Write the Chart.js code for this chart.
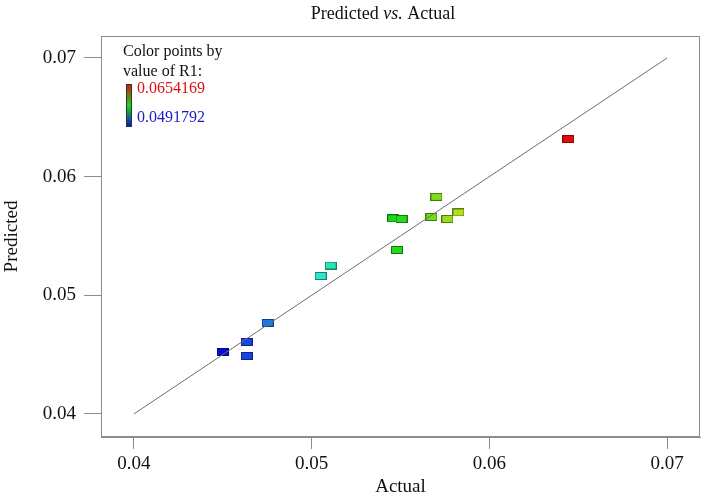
<!DOCTYPE html>
<html>
<head>
<meta charset="utf-8">
<script src="https://cdn.jsdelivr.net/npm/chart.js@4.4.0/dist/chart.umd.min.js"></script>
<style>
  html, body { margin: 0; padding: 0; background: #fff; }
  #wrap { width: 706px; height: 499px; }
</style>
</head>
<body>
<div id="wrap"><canvas id="chart"></canvas></div>
<script>
// values
const actual = [0.0450, 0.04635, 0.04635, 0.04753, 0.05051, 0.05107, 0.05459, 0.05506, 0.05480, 0.05674, 0.05702, 0.05764, 0.05826, 0.06444]
const predicted = [0.04522, 0.04607, 0.04489, 0.04767, 0.05163, 0.05251, 0.05649, 0.05643, 0.05382, 0.05660, 0.05829, 0.05643, 0.05698, 0.06317]
const tickValues = [0.04, 0.05, 0.06, 0.07]
const refLine = [0.04, 0.07]
const r1High = "0.0654169"
const r1Low = "0.0491792"

const serif = "'Liberation Serif', 'DejaVu Serif', serif"

// blue -> cyan -> green -> yellow -> red, by actual value
const colorStops = [
    [0.0450, [10, 10, 215]],
    [0.0464, [25, 70, 230]],
    [0.0476, [25, 125, 235]],
    [0.0505, [45, 230, 205]],
    [0.0545, [25, 215, 25]],
    [0.0552, [40, 220, 30]],
    [0.0567, [115, 220, 25]],
    [0.0583, [175, 225, 30]],
    [0.0645, [230, 10, 10]]
]

function colorFor(v) {
    if (v <= colorStops[0][0]) return colorStops[0][1]
    for (let i = 1; i < colorStops.length; i++) {
        const [v1, c1] = colorStops[i]
        const [v0, c0] = colorStops[i - 1]
        if (v <= v1) {
            const t = (v - v0) / (v1 - v0)
            return c0.map((c, k) => Math.round(c + (c1[k] - c) * t))
        }
    }
    return colorStops[colorStops.length - 1][1]
}

const markCache = {}
function markFor(v) {
    const rgb = colorFor(v)
    const key = rgb.join(",")
    if (markCache[key]) return markCache[key]
    const cv = document.createElement("canvas")
    cv.width = 12
    cv.height = 8
    const c = cv.getContext("2d")
    c.fillStyle = `rgb(${rgb.join(",")})`
    c.fillRect(0, 0, 12, 8)
    c.strokeStyle = `rgb(${rgb.map(x => Math.round(x * 0.55)).join(",")})`
    c.lineWidth = 1
    c.strokeRect(0.5, 0.5, 11, 7)
    markCache[key] = cv
    return cv
}

const decorPlugin = {
    id: "decor",
    beforeDatasetsDraw(chart) {
        const { ctx, chartArea: a } = chart
        ctx.save()
        ctx.strokeStyle = "#8c8c8c"
        ctx.lineWidth = 1
        ctx.strokeRect(a.left + 0.5, a.top + 0.5, a.right - a.left - 1, a.bottom - a.top - 1)
        ctx.restore()
    },
    afterDraw(chart) {
        const { ctx } = chart
        ctx.save()
        // title with italic "vs."
        const parts = [["Predicted ", ""], ["vs.", "italic "], [" Actual", ""]]
        let total = 0
        parts.forEach(p => {
            ctx.font = `${p[1]}18px ${serif}`
            total += ctx.measureText(p[0]).width
        })
        let x = 383 - total / 2
        ctx.fillStyle = "#111"
        ctx.textBaseline = "middle"
        parts.forEach(p => {
            ctx.font = `${p[1]}18px ${serif}`
            ctx.fillText(p[0], x, 14)
            x += ctx.measureText(p[0]).width
        })

        // colour key
        ctx.font = `16px ${serif}`
        ctx.fillStyle = "#111"
        ctx.fillText("Color points by", 123, 52)
        ctx.fillText("value of R1:", 123, 72)
        const grad = ctx.createLinearGradient(0, 84, 0, 127)
        grad.addColorStop(0, "rgb(230,10,10)")
        grad.addColorStop(0.5, "rgb(20,220,20)")
        grad.addColorStop(1, "rgb(10,10,220)")
        ctx.fillStyle = grad
        ctx.fillRect(126, 84, 6, 43)
        ctx.strokeStyle = "#333"
        ctx.lineWidth = 1
        ctx.strokeRect(126.5, 84.5, 5, 42)
        ctx.fillStyle = "#e01010"
        ctx.fillText(r1High, 137, 89)
        ctx.fillStyle = "#1a1acc"
        ctx.fillText(r1Low, 137, 118)
        ctx.restore()
    }
}

const axisColor = "#8c8c8c"

new Chart(document.getElementById("chart"), {
    type: "scatter",
    data: {
        datasets: [
            {
                type: "line",
                data: refLine.map(v => ({ x: v, y: v })),
                borderColor: "#6e6e6e",
                borderWidth: 1,
                pointRadius: 0,
                fill: false
            },
            {
                data: actual.map((a, i) => ({ x: a, y: predicted[i] })),
                pointRadius: 5,
                pointStyle: ctx => markFor(actual[ctx.dataIndex])
            }
        ]
    },
    options: {
        responsive: true,
        maintainAspectRatio: false,
        animation: false,
        layout: { padding: { top: 36, right: 5, left: 0, bottom: 0 } },
        plugins: {
            legend: { display: false },
            tooltip: { enabled: false }
        },
        scales: {
            x: {
                type: "linear",
                min: 0.03815,
                max: 0.07185,
                afterBuildTicks: scale => { scale.ticks = tickValues.map(v => ({ value: v })) },
                afterFit: scale => { scale.height = 62 },
                grid: { drawOnChartArea: false, drawTicks: true, tickLength: 12, color: axisColor },
                border: { display: true, color: axisColor },
                ticks: {
                    padding: 4,
                    color: "#111",
                    font: { family: serif, size: 19 },
                    callback: v => v.toFixed(2)
                },
                title: {
                    display: true,
                    text: "Actual",
                    color: "#111",
                    font: { family: serif, size: 19 },
                    padding: { top: 0, bottom: 1 }
                }
            },
            y: {
                type: "linear",
                min: 0.03806,
                max: 0.07185,
                afterBuildTicks: scale => { scale.ticks = tickValues.map(v => ({ value: v })) },
                afterFit: scale => { scale.width = 101 },
                grid: { drawOnChartArea: false, drawTicks: true, tickLength: 17, color: axisColor },
                border: { display: true, color: axisColor },
                ticks: {
                    padding: 8,
                    color: "#111",
                    font: { family: serif, size: 19 },
                    callback: v => v.toFixed(2)
                },
                title: {
                    display: true,
                    text: "Predicted",
                    color: "#111",
                    font: { family: serif, size: 19 },
                    padding: { top: 1, bottom: 0 }
                }
            }
        }
    },
    plugins: [decorPlugin]
})
</script>
</body>
</html>
